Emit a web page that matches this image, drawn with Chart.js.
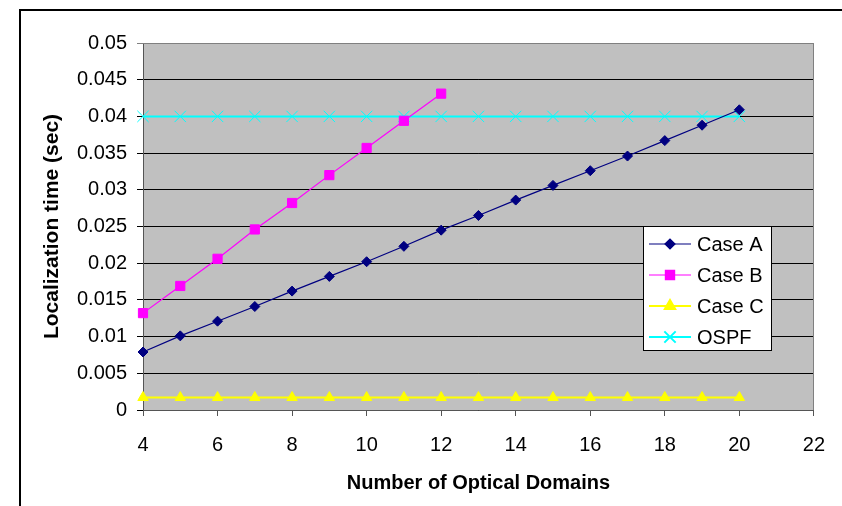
<!DOCTYPE html>
<html>
<head>
<meta charset="utf-8">
<script src="https://cdn.jsdelivr.net/npm/chart.js@4/dist/chart.umd.min.js"></script>
<style>
  body { margin: 0; background: #fff; }
  #wrap { position: relative; width: 842px; height: 506px; overflow: hidden; }
  #frame { position: absolute; left: 19px; top: 9px; width: 900px; height: 600px; border: 2px solid #000; }
  #chart { position: absolute; left: 0; top: 0; }
</style>
</head>
<body>
<div id="wrap">
  <div id="frame"></div>
  <canvas id="chart" width="842" height="506"></canvas>
</div>
<script>
// x values (number of optical domains)
const domains = [4, 5, 6, 7, 8, 9, 10, 11, 12, 13, 14, 15, 16, 17, 18, 19, 20];

// localization time (sec)
const caseA = [0.0079, 0.0101, 0.0121, 0.0141, 0.0162, 0.0182, 0.0202, 0.0223, 0.0245,
               0.0265, 0.0286, 0.0306, 0.0326, 0.0346, 0.0367, 0.0388, 0.0409];
const caseB = [0.0132, 0.0169, 0.0206, 0.0246, 0.0282, 0.0320, 0.0357, 0.0394, 0.0431];
const caseC = [0.0017, 0.0017, 0.0017, 0.0017, 0.0017, 0.0017, 0.0017, 0.0017, 0.0017,
               0.0017, 0.0017, 0.0017, 0.0017, 0.0017, 0.0017, 0.0017, 0.0017];
const ospf  = [0.04, 0.04, 0.04, 0.04, 0.04, 0.04, 0.04, 0.04, 0.04,
               0.04, 0.04, 0.04, 0.04, 0.04, 0.04, 0.04, 0.04];

const seriesNames = ['Case A', 'Case B', 'Case C', 'OSPF'];

const FONT = 'Arial, "Liberation Sans", sans-serif';

function toPoints(values) {
    return values.map((v, i) => ({x: domains[i], y: v}));
}

function makeSet(label, values, color, style, radius, width) {
    return {
        label: label,
        data: toPoints(values),
        borderColor: color,
        backgroundColor: color,
        borderWidth: width,
        pointStyle: style,
        pointRadius: radius,
        pointBackgroundColor: color,
        pointBorderColor: color,
        pointBorderWidth: 1,
        pointHoverRadius: radius,
        tension: 0,
        clip: false
    };
}

// grey plot area with a thin border
const plotBg = {
    id: 'plotBg',
    beforeDraw(chart) {
        const {ctx, chartArea: a} = chart;
        ctx.save();
        ctx.fillStyle = '#c0c0c0';
        ctx.fillRect(a.left, a.top, a.width, a.height);
        ctx.restore();
    },
    beforeDatasetsDraw(chart) {
        const {ctx, chartArea: a} = chart;
        ctx.save();
        ctx.strokeStyle = '#808080';
        ctx.lineWidth = 1;
        ctx.beginPath();
        ctx.moveTo(a.left, Math.round(a.top) + 0.5);
        ctx.lineTo(Math.round(a.right) - 0.5, Math.round(a.top) + 0.5);
        ctx.lineTo(Math.round(a.right) - 0.5, a.bottom);
        ctx.stroke();
        ctx.restore();
    }
};

// legend box sitting inside the plot
const legendBox = {
    id: 'legendBox',
    afterDatasetsDraw(chart) {
        const {ctx, chartArea: a} = chart;
        const left = Math.round(a.right - 171), top = Math.round(a.top + 183);
        const w = 128, h = 124;
        ctx.save();
        ctx.fillStyle = '#fff';
        ctx.fillRect(left, top, w, h);
        ctx.strokeStyle = '#000';
        ctx.lineWidth = 1;
        ctx.strokeRect(left + 0.5, top + 0.5, w, h);
        chart.data.datasets.forEach((ds, i) => {
            const y = top + 18 + i * 31;
            ctx.strokeStyle = ds.borderColor;
            ctx.lineWidth = ds.borderWidth;
            ctx.beginPath();
            ctx.moveTo(left + 6, y);
            ctx.lineTo(left + 48, y);
            ctx.stroke();
            ctx.fillStyle = ds.pointBackgroundColor;
            ctx.strokeStyle = ds.pointBorderColor;
            Chart.helpers.drawPoint(ctx, {
                pointStyle: ds.pointStyle, radius: ds.pointRadius, borderWidth: 1, rotation: 0
            }, left + 27, y);
            ctx.fillStyle = '#000';
            ctx.font = '20px ' + FONT;
            ctx.textBaseline = 'middle';
            ctx.textAlign = 'left';
            ctx.fillText(ds.label, left + 54, y + 1);
        });
        ctx.restore();
    }
};

new Chart(document.getElementById('chart').getContext('2d'), {
    type: 'line',
    data: {
        datasets: [
            makeSet(seriesNames[0], caseA, '#000080', 'rectRot', 5, 1.2),
            makeSet(seriesNames[1], caseB, '#ff00ff', 'rect', 6.5, 1.2),
            makeSet(seriesNames[2], caseC, '#ffff00', 'triangle', 6, 2),
            makeSet(seriesNames[3], ospf, '#00ffff', 'crossRot', 8, 2)
        ]
    },
    options: {
        responsive: false,
        animation: false,
        layout: {padding: {left: 20, top: 43, right: 24, bottom: 0}},
        plugins: {
            legend: {display: false},
            tooltip: {enabled: false}
        },
        scales: {
            x: {
                type: 'linear',
                min: 4,
                max: 22,
                ticks: {stepSize: 2, padding: 17, color: '#000', font: {family: FONT, size: 20}},
                grid: {drawOnChartArea: false, drawTicks: true, tickLength: 6, color: '#555'},
                border: {color: '#555', width: 1},
                title: {
                    display: true,
                    text: 'Number of Optical Domains',
                    color: '#000',
                    font: {family: FONT, size: 20, weight: 'bold'},
                    padding: {top: 0, bottom: 11}
                },
                afterFit(scale) { scale.height = 96; }
            },
            y: {
                min: 0,
                max: 0.05,
                ticks: {
                    stepSize: 0.005,
                    padding: 10,
                    color: '#000',
                    font: {family: FONT, size: 20},
                    callback: v => String(Number(v.toFixed(3)))
                },
                grid: {
                    tickLength: 6,
                    color: c => (c.tick && Math.abs(c.tick.value - 0.05) < 1e-9) ? '#808080' : '#000'
                },
                border: {color: '#555', width: 1},
                title: {
                    display: true,
                    text: 'Localization time (sec)',
                    color: '#000',
                    font: {family: FONT, size: 21, weight: 'bold'},
                    padding: {top: 20, bottom: 0}
                },
                afterFit(scale) { scale.width = 123; }
            }
        }
    },
    plugins: [plotBg, legendBox]
});
</script>
</body>
</html>
